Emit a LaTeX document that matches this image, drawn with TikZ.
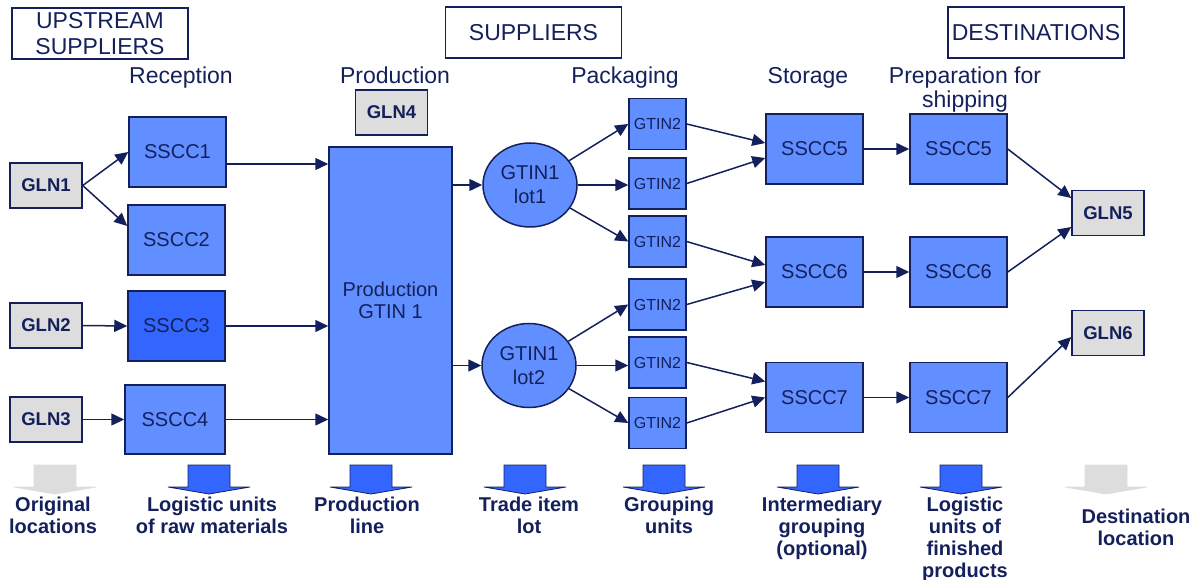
\documentclass[tikz,border=0pt]{standalone}
\usepackage{fontspec}
\setmainfont{Liberation Sans}
\usepackage{tikz}
\usetikzlibrary{arrows.meta,positioning,calc,shapes.geometric}

\definecolor{navy}{RGB}{20,32,92}
\definecolor{boxblue}{RGB}{97,143,255}
\definecolor{deepblue}{RGB}{51,102,255}
\definecolor{palegray}{RGB}{221,221,221}

\begin{document}
\begin{tikzpicture}[
    x=1pt, y=-1pt,
    every node/.style={text=navy, inner sep=0pt},
    header/.style={rectangle, draw=navy, line width=1.5pt, minimum width=176pt, minimum height=51pt, align=center, font=\fontsize{23}{26}\selectfont},
    stage/.style={align=center, font=\fontsize{23}{24}\selectfont},
    gln/.style={rectangle, draw=navy, fill=palegray, line width=1.5pt, minimum width=72pt, minimum height=45pt, font=\bfseries\fontsize{18.5}{22}\selectfont},
    unit/.style={rectangle, draw=navy, fill=boxblue, line width=1.5pt, minimum width=97pt, minimum height=70pt, align=center, font=\fontsize{20}{22}\selectfont},
    item/.style={unit, minimum width=57pt, minimum height=51pt, font=\fontsize{16}{18}\selectfont},
    lot/.style={ellipse, draw=navy, fill=boxblue, line width=1.5pt, minimum width=94pt, minimum height=84pt, align=center, font=\fontsize{20}{24}\selectfont},
    flow/.style={-{Triangle[length=13pt, width=12pt]}, draw=navy, line width=1.5pt},
    caption/.style={anchor=north, align=center, font=\bfseries\fontsize{20}{22}\selectfont},
]
    \useasboundingbox (0,0) rectangle (1195,580);

    % headers and stages
    \node[header] (upstream) at (100,33.5) {\raisebox{-2pt}{UPSTREAM}\\\raisebox{-2pt}{SUPPLIERS}};
    \node[header] (suppliers) at (533.5,32.5) {SUPPLIERS};
    \node[header] (destinations) at (1036,32.5) {DESTINATIONS};

    \node[stage, anchor=base] (reception) at (181,84) {Reception};
    \node[stage, anchor=base] (production) at (395,84) {Production};
    \node[stage, anchor=base] (packaging) at (625,84) {Packaging};
    \node[stage, anchor=base] (storage) at (808,84) {Storage};
    \node[stage] (preparation) at (965,90) {Preparation for\\shipping};

    % locations
    \node[gln] (gln1) at (46,185.5) {GLN1};
    \node[gln] (gln2) at (46,325.5) {GLN2};
    \node[gln] (gln3) at (46,419.5) {GLN3};
    \node[gln] (gln4) at (391.5,112.5) {GLN4};
    \node[gln] (gln5) at (1108,213) {GLN5};
    \node[gln] (gln6) at (1108,333) {GLN6};

    % units
    \node[unit] (sscc1) at (177.5,152) {SSCC1};
    \node[unit] (sscc2) at (176.5,240) {SSCC2};
    \node[unit, fill=deepblue] (sscc3) at (176.5,326) {SSCC3};
    \node[unit, minimum width=100pt, minimum height=69pt] (sscc4) at (175,419.5) {SSCC4};
    \node[unit, minimum width=123pt, minimum height=307pt] (prod) at (390.5,300.5) {Production\\GTIN 1};

    \node[lot] (lot1) at (530,185) {GTIN1\\lot1};
    \node[lot] (lot2) at (529,365.5) {GTIN1\\lot2};

    \node[item] (g1) at (657.5,124) {GTIN2};
    \node[item] (g2) at (657.5,183.5) {GTIN2};
    \node[item] (g3) at (657.5,241.5) {GTIN2};
    \node[item] (g4) at (657.5,304.5) {GTIN2};
    \node[item] (g5) at (657.5,362.5) {GTIN2};
    \node[item] (g6) at (657.5,423) {GTIN2};

    \node[unit] (s5) at (814.5,149) {SSCC5};
    \node[unit] (s6) at (814.5,272) {SSCC6};
    \node[unit] (s7) at (814.5,397.5) {SSCC7};
    \node[unit] (p5) at (958.5,149) {SSCC5};
    \node[unit] (p6) at (958.5,272) {SSCC6};
    \node[unit] (p7) at (958.5,397.5) {SSCC7};

    % reception
    \draw[flow] (gln1.east) -- (sscc1.west);
    \draw[flow] (gln1.east) -- ([yshift=14pt]sscc2.west);
    \draw[flow] (gln2.east) -- (sscc3.west);
    \draw[flow] (gln3.east) -- (sscc4.west);

    % into production line
    \coordinate (in1) at ([yshift=-12pt]sscc1.east);
    \draw[flow] (in1) -- (in1 -| prod.west);
    \draw[flow] (sscc3.east) -- (sscc3.east -| prod.west);
    \draw[flow] (sscc4.east) -- (sscc4.east -| prod.west);
    \draw[flow] (prod.east |- lot1.west) -- (lot1.west);
    \draw[flow] (prod.east |- lot2.west) -- (lot2.west);

    % packaging
    \draw[flow] (lot1) -- (g1.west);
    \draw[flow] (lot1.east) -- (lot1.east -| g2.west);
    \draw[flow] (lot1) -- (g3.west);
    \draw[flow] (lot2) -- (g4.west);
    \draw[flow] (lot2.east) -- (lot2.east -| g5.west);
    \draw[flow] (lot2) -- (g6.west);

    % storage and shipping
    \draw[flow] (g1.east) -- ([yshift=6pt]s5.west);
    \draw[flow] (g2.east) -- ([yshift=-9pt]s5.west);
    \draw[flow] (g3.east) -- ([yshift=7pt]s6.west);
    \draw[flow] (g4.east) -- ([yshift=-10pt]s6.west);
    \draw[flow] (g5.east) -- ([yshift=16pt]s7.west);
    \draw[flow] (g6.east) -- (s7.west);
    \draw[flow] (s5.east) -- (p5.west);
    \draw[flow] (s6.east) -- (p6.west);
    \draw[flow] (s7.east) -- (p7.west);
    \draw[flow] (p5.east) -- ([yshift=15pt]gln5.west);
    \draw[flow] (p6.east) -- ([yshift=-14pt]gln5.west);
    \draw[flow] (p7.east) -- ([yshift=-4pt]gln6.west);

    % block arrows over the captions
    \foreach \x/\fc/\dc in {55/palegray/palegray, 209/deepblue/navy, 371/deepblue/navy, 525/deepblue/navy,
                            664/deepblue/navy, 818/deepblue/navy, 961/deepblue/navy, 1106/palegray/palegray}
        \draw[fill=\fc, draw=\dc, line width=0.8pt] (\x-21,465) -- (\x+21,465) -- (\x+21,487) -- (\x+41,487)
            -- (\x,494) -- (\x-41,487) -- (\x-21,487) -- cycle;

    \node[caption] (cap1) at (53,497) {Original\\locations};
    \node[caption] (cap2) at (212,497) {Logistic units\\of raw materials};
    \node[caption] (cap3) at (367,497) {Production\\line};
    \node[caption] (cap4) at (529,497) {Trade item\\lot};
    \node[caption] (cap5) at (669,497) {Grouping\\units};
    \node[caption] (cap6) at (822,497) {Intermediary\\grouping\\(optional)};
    \node[caption] (cap7) at (965,497) {Logistic\\units of\\finished\\products};
    \node[caption] (cap8) at (1136,509) {Destination\\location};
\end{tikzpicture}
\end{document}
